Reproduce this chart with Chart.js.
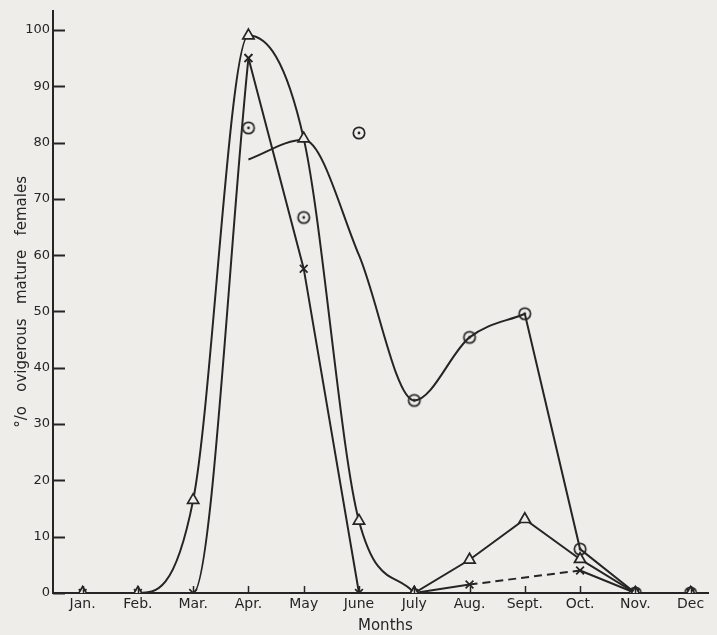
<!DOCTYPE html>
<html>
<head>
<meta charset="utf-8">
<script src="https://cdn.jsdelivr.net/npm/chart.js@4"></script>
<style>
  html, body { margin: 0; padding: 0; background: #eeede9; }
  #wrap { width: 717px; height: 635px; }
</style>
</head>
<body>
<div id="wrap"><canvas id="myChart" width="717" height="635"></canvas></div>
<script>
var months = ['Jan.', 'Feb.', 'Mar.', 'Apr.', 'May', 'June', 'July', 'Aug.', 'Sept.', 'Oct.', 'Nov.', 'Dec'];
var yTicks = [0, 10, 20, 30, 40, 50, 60, 70, 80, 90, 100];

// triangles
var triangleVals = [0, 0, 16.5, 99, 80.7, 12.8, 0, 5.9, 13.1, 6, 0, 0];
// crosses (Sept not sampled -> dashed)
var crossVals = [0, 0, 0, 95, 57.6, 0, 0, 1.5, null, 4, 0, 0];
// circles (plotted points)
var circleVals = [null, null, null, 82.6, 66.7, 81.7, 34.2, 45.4, 49.6, 7.8, 0, 0];
// fitted curve through circles
var circleCurve = [null, null, null, 77, 80.5, 60, 34.2, 45.4, 49.6, 7.8, 0, null];

var INK = '#252525';
var BG = '#eeede9';

function pts(vals, from, to) {
    var out = [];
    for (var i = from; i <= to; i++) {
        out.push({x: i + 1, y: vals[i]});
    }
    return out;
}

// circle with a dot in the middle
var dotCircle = document.createElement('canvas');
dotCircle.width = 16; dotCircle.height = 16;
(function () {
    var c = dotCircle.getContext('2d');
    c.beginPath(); c.arc(8, 8, 5.7, 0, Math.PI * 2);
    c.fillStyle = BG; c.fill();
    c.lineWidth = 1.7; c.strokeStyle = INK; c.stroke();
    c.beginPath(); c.arc(8, 8, 1.4, 0, Math.PI * 2);
    c.fillStyle = INK; c.fill();
})();

var innerTicks = {
    id: 'innerTicks',
    afterDatasetsDraw: function (chart) {
        var ctx = chart.ctx, a = chart.chartArea;
        var ys = chart.scales.y, xs = chart.scales.x;
        ctx.save();
        ctx.strokeStyle = INK;
        ctx.lineWidth = 2;
        yTicks.forEach(function (v) {
            var py = Math.round(ys.getPixelForValue(v)) + 0.5;
            ctx.beginPath(); ctx.moveTo(a.left, py); ctx.lineTo(a.left + 12, py); ctx.stroke();
        });
        ctx.lineWidth = 1.5;
        months.forEach(function (m, i) {
            var px = Math.round(xs.getPixelForValue(i + 1)) + 0.5;
            ctx.beginPath(); ctx.moveTo(px, a.bottom); ctx.lineTo(px, a.bottom - 7); ctx.stroke();
        });
        ctx.restore();
    }
};

var lineBase = {
    borderColor: INK,
    borderWidth: 2,
    backgroundColor: BG,
    pointBorderColor: INK,
    pointBackgroundColor: BG,
    pointBorderWidth: 1.7,
    fill: false
};

function ds(extra) {
    return Object.assign({}, lineBase, extra);
}

var CHART = document.getElementById('myChart');
var myChart = new Chart(CHART, {
    type: 'line',
    data: {
        datasets: [
            // triangles
            ds({data: pts(triangleVals, 0, 6), cubicInterpolationMode: 'monotone', pointStyle: 'triangle', pointRadius: 6.5}),
            ds({data: pts(triangleVals, 6, 11), tension: 0, pointStyle: 'triangle', pointRadius: 6.5}),
            // crosses
            ds({data: pts(crossVals, 0, 3), cubicInterpolationMode: 'monotone', pointStyle: 'crossRot', pointRadius: 5.5}),
            ds({data: pts(crossVals, 3, 7), tension: 0, pointStyle: 'crossRot', pointRadius: 5.5}),
            ds({data: pts(crossVals, 7, 9), tension: 0, spanGaps: true, borderDash: [8, 5], pointRadius: 0}),
            ds({data: pts(crossVals, 9, 11), tension: 0, pointStyle: 'crossRot', pointRadius: 5.5}),
            // circles: fitted curve + straight end
            ds({data: pts(circleCurve, 3, 8), cubicInterpolationMode: 'monotone', pointRadius: 0}),
            ds({data: pts(circleCurve, 8, 10), tension: 0, pointRadius: 0}),
            ds({data: pts(circleVals, 3, 11), showLine: false, pointStyle: dotCircle, pointRadius: 7})
        ]
    },
    options: {
        responsive: false,
        animation: false,
        layout: {padding: {top: 10, right: 0, left: 0, bottom: 0}},
        plugins: {
            legend: {display: false},
            tooltip: {enabled: false}
        },
        scales: {
            x: {
                type: 'linear',
                min: 0.464,
                max: 12.32,
                afterBuildTicks: function (axis) {
                    axis.ticks = months.map(function (m, i) { return {value: i + 1}; });
                },
                afterFit: function (axis) { axis.height = 42; },
                ticks: {
                    color: INK,
                    padding: 3,
                    autoSkip: false,
                    maxRotation: 0,
                    font: {family: 'DejaVu Sans', size: 14},
                    callback: function (v) { return months[v - 1]; }
                },
                grid: {display: true, drawOnChartArea: false, drawTicks: false},
                border: {color: INK, width: 2},
                title: {
                    display: true,
                    text: '  Months',
                    color: INK,
                    padding: {top: 0, bottom: 0},
                    font: {family: 'DejaVu Sans', size: 15}
                }
            },
            y: {
                min: 0,
                max: 103.4,
                afterBuildTicks: function (axis) {
                    axis.ticks = yTicks.map(function (v) { return {value: v}; });
                },
                afterFit: function (axis) { axis.width = 53; },
                ticks: {
                    color: INK,
                    padding: 3,
                    font: {family: 'DejaVu Sans', size: 13}
                },
                grid: {display: true, drawOnChartArea: false, drawTicks: false},
                border: {color: INK, width: 2},
                title: {
                    display: true,
                    text: '°/o   ovigerous   mature   females',
                    color: INK,
                    padding: {top: 13, bottom: 0},
                    font: {family: 'DejaVu Sans', size: 15}
                }
            }
        }
    },
    plugins: [innerTicks]
});
</script>
</body>
</html>
